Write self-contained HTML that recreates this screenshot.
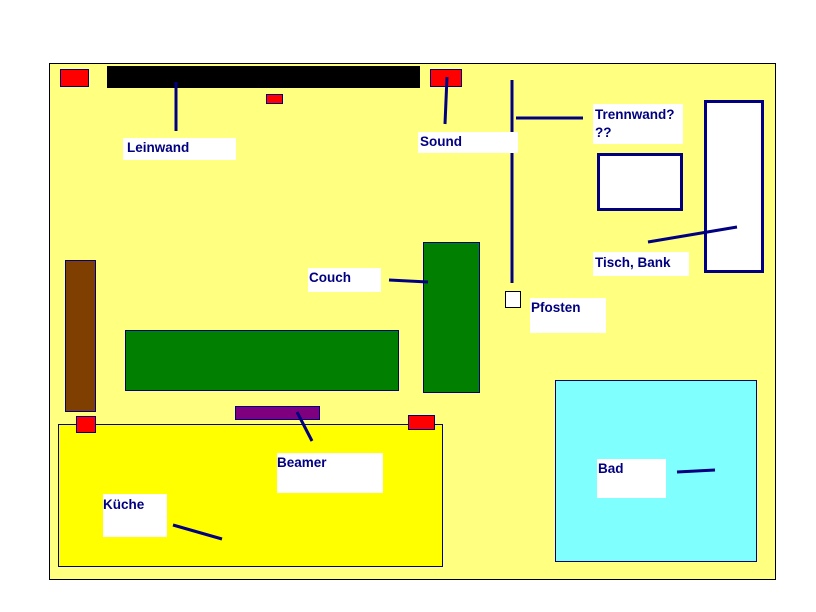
<!DOCTYPE html>
<html><head><meta charset="utf-8"><style>
html,body{margin:0;padding:0;background:#fff;width:816px;height:612px;overflow:hidden}
text{font-family:"Liberation Sans",Arial,sans-serif;font-weight:bold;font-size:13.5px;fill:#000080}
</style></head><body>
<svg width="816" height="612" xmlns="http://www.w3.org/2000/svg">
<rect x="49.5" y="63.5" width="726" height="516" fill="#ffff80" stroke="#000" stroke-width="1"/>
<rect x="60.5" y="69.5" width="28" height="17" fill="#ff0000" stroke="#000080" stroke-width="1"/>
<rect x="107" y="66" width="313" height="22" fill="#000"/>
<rect x="266.5" y="94.5" width="16" height="9" fill="#ff0000" stroke="#000080" stroke-width="1"/>
<rect x="430.5" y="69.5" width="31" height="17" fill="#ff0000" stroke="#000080" stroke-width="1"/>
<g stroke="#000080" stroke-width="3" fill="none">
<line x1="176" y1="82" x2="176" y2="131"/>
<line x1="447" y1="77" x2="445" y2="124"/>
<line x1="512" y1="80" x2="512" y2="283"/>
<line x1="516" y1="118" x2="583" y2="118"/>
</g>
<rect x="123" y="138" width="113" height="22" fill="#fff"/>
<text x="127" y="152">Leinwand</text>
<rect x="418" y="132" width="100" height="21" fill="#fff"/>
<text x="420" y="146">Sound</text>
<rect x="593" y="104" width="90" height="40" fill="#fff"/>
<text x="595" y="119">Trennwand?</text>
<text x="595" y="137">??</text>
<rect x="598.5" y="154.5" width="83" height="55" fill="#fff" stroke="#000080" stroke-width="3"/>
<rect x="705.5" y="101.5" width="57" height="170" fill="#fff" stroke="#000080" stroke-width="3"/>
<line x1="648" y1="242" x2="737" y2="227" stroke="#000080" stroke-width="3"/>
<rect x="593" y="252" width="96" height="24" fill="#fff"/>
<text x="595" y="267">Tisch, Bank</text>
<rect x="505.5" y="291.5" width="15" height="16" fill="#fff" stroke="#000" stroke-width="1"/>
<rect x="530" y="298" width="76" height="35" fill="#fff"/>
<text x="531" y="312">Pfosten</text>
<rect x="65.5" y="260.5" width="30" height="151" fill="#7f3f00" stroke="#000080" stroke-width="1"/>
<rect x="423.5" y="242.5" width="56" height="150" fill="#007f00" stroke="#000080" stroke-width="1"/>
<rect x="125.5" y="330.5" width="273" height="60" fill="#007f00" stroke="#000080" stroke-width="1"/>
<rect x="308" y="268" width="73" height="24" fill="#fff"/>
<text x="309" y="282">Couch</text>
<line x1="389" y1="280" x2="428" y2="282" stroke="#000080" stroke-width="3"/>
<rect x="58.5" y="424.5" width="384" height="142" fill="#ffff00" stroke="#000080" stroke-width="1"/>
<rect x="76.5" y="416.5" width="19" height="16" fill="#ff0000" stroke="#000080" stroke-width="1"/>
<rect x="408.5" y="415.5" width="26" height="14" fill="#ff0000" stroke="#000080" stroke-width="1"/>
<rect x="235.5" y="406.5" width="84" height="13" fill="#7f007f" stroke="#000080" stroke-width="1"/>
<line x1="297" y1="412" x2="312" y2="441" stroke="#000080" stroke-width="3"/>
<rect x="277" y="453" width="106" height="40" fill="#fff"/>
<text x="277" y="467">Beamer</text>
<rect x="103" y="494" width="64" height="43" fill="#fff"/>
<text x="103" y="509">Küche</text>
<line x1="173" y1="525" x2="222" y2="539" stroke="#000080" stroke-width="3"/>
<rect x="555.5" y="380.5" width="201" height="181" fill="#80ffff" stroke="#000080" stroke-width="1"/>
<rect x="597" y="459" width="69" height="39" fill="#fff"/>
<text x="598" y="473">Bad</text>
<line x1="677" y1="472" x2="715" y2="470" stroke="#000080" stroke-width="3"/>
</svg>
</body></html>
